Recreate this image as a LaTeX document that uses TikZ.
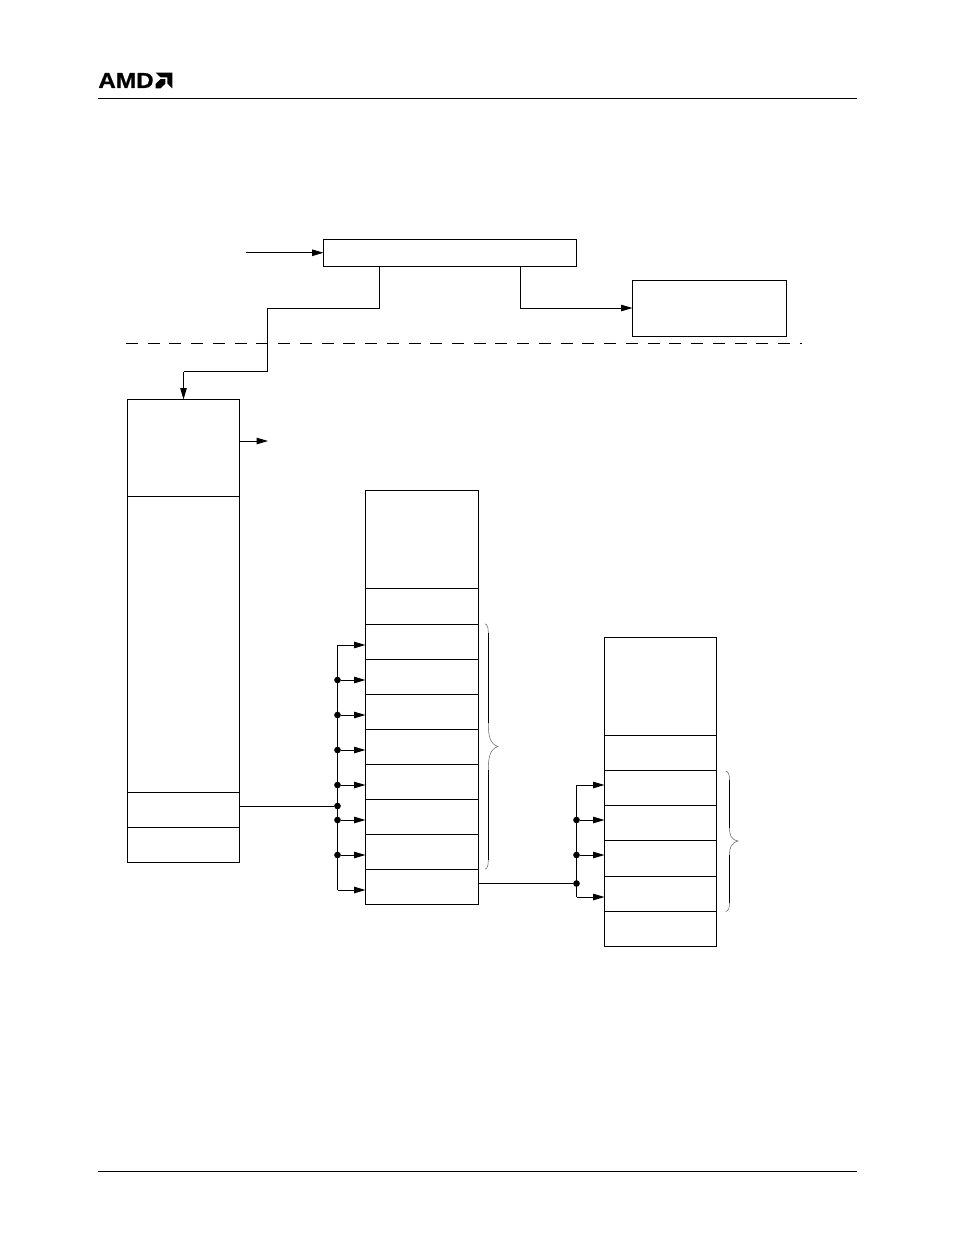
\documentclass[tikz,border=0pt]{standalone}
\usepackage{fontspec}
\setmainfont{Liberation Sans}
\newfontfamily\logofont[FakeStretch=1.12,FakeBold=0.6]{Liberation Sans}
\usetikzlibrary{arrows.meta}

\tikzset{
    rule/.style={line width=0.75pt},
    cell/.style={draw, line width=0.75pt, inner sep=0pt, outer sep=0pt},
    feed/.style={line width=0.75pt, -{Triangle[length=8.5pt,width=4.8pt]}},
    wire/.style={line width=0.75pt},
    dot/.style={circle, fill=black, inner sep=0pt, minimum size=5pt},
    curl/.style={line width=0.4pt, black!60}
}

\begin{document}
\begin{tikzpicture}[x=0.75pt, y=-0.75pt]
    \useasboundingbox (0,0) rectangle (954,1235);

    % Draw the page header and footer
    \node (logotext) at (126,80.5) [inner sep=0pt, font=\logofont\bfseries\fontsize{16.3}{16.3}\selectfont] {AMD};
    \fill (155.7,72.7) -- (172.3,72.7) -- (172.3,88.3) -- (167.3,83.4) -- (167.3,77.4) -- (160.7,77.4) -- cycle;
    \fill (155.7,83.8) -- (160.5,79.2) -- (165.3,79.2) -- (165.3,83.8) -- (160.5,88.3) -- (155.7,88.3) -- cycle;
    \draw[rule] (98,98.5) -- (857,98.5);
    \draw[rule] (98,1171.5) -- (857,1171.5);

    % Define the boxes on top
    \node[cell, minimum width=190.1pt, minimum height=20.6pt] (top) at (450.25,252.75) {};
    \node[cell, minimum width=115.5pt, minimum height=42pt] (side) at (709.5,308.5) {};

    % Define the points of the upper connectors
    \coordinate (in) at (246,252.75);
    \coordinate (topL) at (379.6,266.5);
    \coordinate (bendA) at (267.6,308);
    \coordinate (bendB) at (183.5,371.5);
    \coordinate (topR) at (520.6,266.5);
    \coordinate (cutL) at (126,343);
    \coordinate (cutR) at (802,343);
    \coordinate (out) at (268,441);

    % Define the left stack
    \node[cell, minimum width=84pt, minimum height=72.75pt] (a1) at (183.5,448) {};
    \node[cell, minimum width=84pt, minimum height=222pt] (a2) at (183.5,644.5) {};
    \node[cell, minimum width=84pt, minimum height=26.25pt] (a3) at (183.5,810) {};
    \node[cell, minimum width=84pt, minimum height=26.25pt] (a4) at (183.5,845) {};

    % Define the middle stack
    \node[cell, minimum width=84.4pt, minimum height=73.5pt] (b1) at (421.75,539.5) {};
    \node[cell, minimum width=84.4pt, minimum height=27pt] (b2) at (421.75,606) {};
    \node[cell, minimum width=84.4pt, minimum height=26.25pt] (b3) at (421.75,641.8) {};
    \node[cell, minimum width=84.4pt, minimum height=26.25pt] (b4) at (421.75,676.8) {};
    \node[cell, minimum width=84.4pt, minimum height=26.25pt] (b5) at (421.75,711.8) {};
    \node[cell, minimum width=84.4pt, minimum height=26.25pt] (b6) at (421.75,746.8) {};
    \node[cell, minimum width=84.4pt, minimum height=26.25pt] (b7) at (421.75,781.8) {};
    \node[cell, minimum width=84.4pt, minimum height=26.25pt] (b8) at (421.75,816.8) {};
    \node[cell, minimum width=84.4pt, minimum height=26.25pt] (b9) at (421.75,851.8) {};
    \node[cell, minimum width=84.4pt, minimum height=26.25pt] (b10) at (421.75,886.8) {};

    % Define the right stack
    \node[cell, minimum width=84pt, minimum height=73.5pt] (c1) at (660.5,686.5) {};
    \node[cell, minimum width=84pt, minimum height=26.25pt] (c2) at (660.5,753) {};
    \node[cell, minimum width=84pt, minimum height=26.25pt] (c3) at (660.5,788) {};
    \node[cell, minimum width=84pt, minimum height=26.25pt] (c4) at (660.5,823) {};
    \node[cell, minimum width=84pt, minimum height=27pt] (c5) at (660.5,858.5) {};
    \node[cell, minimum width=84pt, minimum height=26.25pt] (c6) at (660.5,894) {};
    \node[cell, minimum width=84pt, minimum height=26.25pt] (c7) at (660.5,928.75) {};

    % Draw the upper connectors
    \draw[feed] (in) -- (top.west);
    \draw[wire] (topL) |- (bendA) -- (bendA |- bendB) -- (bendB);
    \draw[feed] (bendB) -- (a1.north);
    \draw[feed] (topR) |- (side.west |- bendA);
    \draw[wire, dash pattern=on 9pt off 7.3pt] (cutL) -- (cutR);
    \draw[feed] (a1.east |- out) -- (out);

    % Define the points on the middle bus
    \coordinate (d1) at (337.5,645);
    \node[dot] (d2) at (337.5,680) {};
    \node[dot] (d3) at (337.5,715) {};
    \node[dot] (d4) at (337.5,750) {};
    \node[dot] (d5) at (337.5,785) {};
    \node[dot] (d6) at (337.5,806) {};
    \node[dot] (d7) at (337.5,820) {};
    \node[dot] (d8) at (337.5,855) {};
    \coordinate (d9) at (337.5,890);

    % Draw the middle bus
    \draw[wire] (d1) -- (d9);
    \draw[wire] (a3.east |- d6) -- (d6);
    \draw[feed] (d1) -- (d1 -| b3.west);
    \draw[feed] (d2) -- (d2 -| b4.west);
    \draw[feed] (d3) -- (d3 -| b5.west);
    \draw[feed] (d4) -- (d4 -| b6.west);
    \draw[feed] (d5) -- (d5 -| b7.west);
    \draw[feed] (d7) -- (d7 -| b8.west);
    \draw[feed] (d8) -- (d8 -| b9.west);
    \draw[feed] (d9) -- (d9 -| b10.west);

    % Define the points on the right bus
    \coordinate (e1) at (576.5,785);
    \node[dot] (e2) at (576.5,820) {};
    \node[dot] (e3) at (576.5,855) {};
    \node[dot] (e4) at (576.5,883.5) {};
    \coordinate (e5) at (576.5,897);

    % Draw the right bus
    \draw[wire] (e1) -- (e5);
    \draw[wire] (b10.east |- e4) -- (e4);
    \draw[feed] (e1) -- (e1 -| c3.west);
    \draw[feed] (e2) -- (e2 -| c4.west);
    \draw[feed] (e3) -- (e3 -| c5.west);
    \draw[feed] (e5) -- (e5 -| c6.west);

    % Draw the braces
    \draw[wire] (488.3,633) -- (488.3,723) (488.3,770) -- (488.3,860);
    \draw[curl] (485,623.8) .. controls (487.5,624.5) and (488.3,628) .. (488.3,633);
    \draw[curl] (488.3,723) .. controls (488.3,736) and (490,744) .. (498,746.5)
        .. controls (490,749) and (488.3,757) .. (488.3,770);
    \draw[curl] (488.3,860) .. controls (488.3,865) and (487.5,868.5) .. (485,869.2);
    \draw[wire] (729.5,780) -- (729.5,828) (729.5,855) -- (729.5,903);
    \draw[curl] (725.7,771) .. controls (728.5,771.5) and (729.5,775) .. (729.5,780);
    \draw[curl] (729.5,828) .. controls (729.5,835) and (731,839.5) .. (738,841)
        .. controls (731,843) and (729.5,848) .. (729.5,855);
    \draw[curl] (729.5,903) .. controls (729.5,908) and (728.5,911) .. (725.7,911.5);

\end{tikzpicture}
\end{document}
